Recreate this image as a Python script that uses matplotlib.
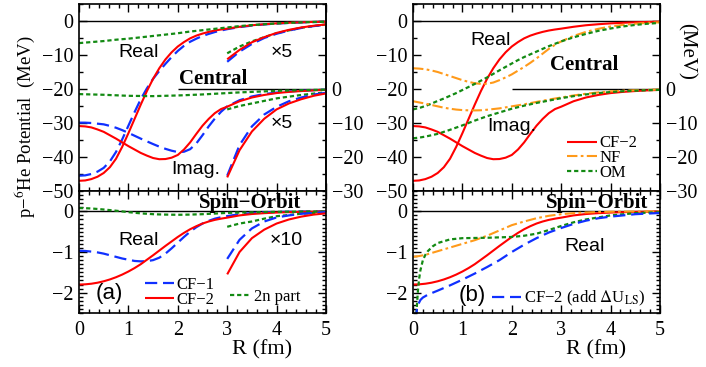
import numpy as np
import matplotlib.pyplot as plt
from matplotlib.ticker import MultipleLocator, FuncFormatter

plt.rcParams['font.family'] = ['Liberation Serif', 'DejaVu Serif']
plt.rcParams['mathtext.fontset'] = 'stix'
plt.rcParams['axes.unicode_minus'] = True

# ---------------- data ----------------
R = [0, 0.125, 0.25, 0.375, 0.5, 0.625, 0.75, 0.875, 1.0, 1.125, 1.25, 1.375, 1.5,
     1.625, 1.75, 1.875, 2.0, 2.125, 2.25, 2.375, 2.5, 2.625, 2.75, 2.875, 3.0,
     3.25, 3.5, 3.75, 4.0, 4.25, 4.5, 4.75, 5.0]

# central, real part (MeV)
cf1_real = [-45.5, -45.4, -45.0, -44.3, -43.2, -41.3, -38.5, -34.8, -30.8, -26.8, -23.0,
            -19.8, -17.0, -14.7, -12.6, -10.6, -8.8, -7.3, -6.1, -5.2, -4.4, -3.8, -3.25,
            -2.8, -2.4, -1.8, -1.35, -1.0, -0.75, -0.56, -0.41, -0.3, -0.22]
cf2_real = [-47.0, -46.9, -46.5, -45.8, -44.7, -43.0, -40.5, -37.0, -33.0, -28.8, -24.6,
            -20.6, -17.0, -13.9, -11.3, -9.2, -7.5, -6.2, -5.1, -4.3, -3.7, -3.2, -2.8,
            -2.5, -2.25, -1.7, -1.25, -0.95, -0.7, -0.52, -0.38, -0.28, -0.2]
twon_real = [-6.5, -6.35, -6.2, -6.05, -5.9, -5.7, -5.5, -5.35, -5.2, -5.0, -4.8, -4.6,
             -4.4, -4.2, -4.0, -3.8, -3.6, -3.35, -3.1, -2.9, -2.7, -2.5, -2.3, -2.1,
             -1.9, -1.5, -1.2, -0.95, -0.72, -0.55, -0.4, -0.3, -0.2]
nf_real = [-13.9, -14.0, -14.2, -14.55, -15.0, -15.6, -16.2, -16.8, -17.4, -17.9, -18.3,
           -18.5, -18.45, -18.1, -17.4, -16.6, -15.7, -14.6, -13.5, -12.3, -11.0, -9.6,
           -8.2, -7.0, -6.0, -4.4, -3.2, -2.3, -1.6, -1.15, -0.8, -0.55, -0.38]
om_real = [-26.0, -25.6, -25.0, -24.3, -23.5, -22.8, -22.0, -21.2, -20.3, -19.4, -18.5,
           -17.55, -16.6, -15.55, -14.5, -13.5, -12.5, -11.5, -10.6, -9.8, -9.0, -8.2,
           -7.4, -6.7, -6.0, -4.8, -3.8, -2.9, -2.2, -1.6, -1.15, -0.8, -0.55]

# central, imaginary part (MeV, right-hand scale)
cf1_imag = [-9.9, -9.9, -10.0, -10.2, -10.4, -10.85, -11.4, -12.1, -12.9, -13.75, -14.6,
            -15.4, -16.2, -16.95, -17.6, -18.15, -18.55, -18.45, -17.7, -16.0, -13.6,
            -11.0, -8.7, -6.7, -5.1, -3.3, -2.2, -1.5, -1.05, -0.72, -0.5, -0.33, -0.22]
cf2_imag = [-10.9, -11.0, -11.3, -11.9, -12.6, -13.6, -14.6, -15.7, -16.8, -17.8, -18.8,
            -19.6, -20.3, -20.65, -20.6, -20.2, -19.4, -17.8, -15.7, -13.2, -10.8, -8.8,
            -7.1, -5.9, -5.2, -3.6, -2.5, -1.75, -1.2, -0.85, -0.6, -0.4, -0.26]
twon_imag = [-1.5, -1.55, -1.6, -1.65, -1.7, -1.78, -1.85, -1.93, -2.0, -2.03, -2.05,
             -2.08, -2.1, -2.05, -2.0, -1.95, -1.9, -1.83, -1.75, -1.68, -1.6, -1.5,
             -1.4, -1.3, -1.2, -1.0, -0.85, -0.7, -0.55, -0.45, -0.35, -0.27, -0.2]
nf_imag = [-3.6, -3.95, -4.3, -4.7, -5.1, -5.5, -5.8, -6.05, -6.2, -6.28, -6.3, -6.25,
           -6.1, -5.9, -5.7, -5.4, -5.1, -4.8, -4.5, -4.15, -3.8, -3.45, -3.1, -2.8,
           -2.5, -1.9, -1.4, -1.0, -0.7, -0.5, -0.35, -0.25, -0.15]
om_imag = [-14.5, -14.3, -14.0, -13.6, -13.2, -12.6, -12.0, -11.35, -10.7, -10.0, -9.3,
           -8.65, -8.0, -7.45, -6.9, -6.35, -5.8, -5.35, -4.9, -4.5, -4.1, -3.75, -3.4,
           -3.05, -2.7, -2.1, -1.6, -1.2, -0.9, -0.65, -0.5, -0.35, -0.25]

# spin-orbit, real part (MeV)
cf1_so = [-0.97, -0.975, -0.99, -1.01, -1.04, -1.08, -1.12, -1.16, -1.19, -1.22, -1.23,
          -1.225, -1.20, -1.14, -1.04, -0.91, -0.77, -0.63, -0.50, -0.39, -0.30, -0.235,
          -0.18, -0.145, -0.117, -0.07, -0.042, -0.025, -0.015, -0.01, -0.006, -0.004,
          -0.002]
cf2_so = [-1.80, -1.795, -1.78, -1.755, -1.72, -1.675, -1.62, -1.555, -1.48, -1.395,
          -1.30, -1.19, -1.08, -0.965, -0.85, -0.74, -0.63, -0.53, -0.44, -0.365, -0.30,
          -0.25, -0.21, -0.18, -0.155, -0.10, -0.066, -0.045, -0.03, -0.02, -0.013,
          -0.008, -0.005]
twon_so = [0.08, 0.077, 0.07, 0.058, 0.045, 0.03, 0.015, -0.002, -0.02, -0.035, -0.05,
           -0.06, -0.07, -0.076, -0.08, -0.083, -0.085, -0.083, -0.08, -0.075, -0.07,
           -0.062, -0.055, -0.046, -0.038, -0.03, -0.025, -0.018, -0.012, -0.009,
           -0.006, -0.004, -0.003]
nf_so = [-1.12, -1.10, -1.07, -1.025, -0.98, -0.935, -0.89, -0.845, -0.80, -0.755,
         -0.71, -0.655, -0.60, -0.535, -0.47, -0.405, -0.34, -0.295, -0.25, -0.21,
         -0.17, -0.14, -0.11, -0.09, -0.07, -0.045, -0.028, -0.018, -0.01, -0.006,
         -0.004, -0.002, -0.001]
R_om_so = [0.06, 0.08, 0.1, 0.125, 0.15, 0.2, 0.25, 0.3, 0.4, 0.5, 0.75, 1.0, 1.5,
           2.0, 2.25, 2.5, 2.75, 3.0, 3.25, 3.5, 4.0, 4.5, 5.0]
om_so = [-2.7, -2.3, -1.95, -1.65, -1.45, -1.2, -1.07, -0.98, -0.86, -0.78, -0.69, -0.66,
         -0.65, -0.63, -0.6, -0.55, -0.46, -0.36, -0.27, -0.2, -0.1, -0.045, -0.02]
R_dls = [0.05, 0.08, 0.1, 0.15, 0.2, 0.3, 0.5, 0.75, 1.0, 1.25, 1.5, 1.75, 2.0, 2.25,
         2.5, 2.75, 3.0, 3.25, 3.5, 3.75, 4.0, 4.25, 4.5, 4.75, 5.0]
cf2_dls = [-2.7, -2.4, -2.3, -2.18, -2.12, -2.05, -1.95, -1.82, -1.68, -1.53, -1.37,
           -1.2, -1.0, -0.82, -0.66, -0.52, -0.41, -0.31, -0.23, -0.17, -0.13, -0.1,
           -0.07, -0.055, -0.04]

IMAG_SHIFT = -20.0   # imaginary part drawn with its zero at -20 on the left scale
SCALE_C = 5.0        # "x5" magnification for R >= 3
SCALE_SO = 10.0      # "x10" magnification for R >= 3

# ---------------- styles ----------------
RED = '#ff0000'
BLUE = '#1030ff'
GREEN = '#138a13'
ORANGE = '#ff9a1a'
st_red = dict(color=RED, lw=1.5, solid_capstyle='butt')
st_blue = dict(color=BLUE, lw=1.6, dashes=(5.5, 2.6))
st_green = dict(color=GREEN, lw=1.6, dashes=(1.9, 1.3))
st_orange = dict(color=ORANGE, lw=1.5, dashes=(5.0, 1.6, 1.3, 1.6))
SANS = ['Liberation Sans', 'DejaVu Sans']

fig = plt.figure(figsize=(7.06, 3.67), dpi=100)
W, H = 706.0, 367.0
def axpos(x0, x1, y0, y1):
    return [x0 / W, 1 - y1 / H, (x1 - x0) / W, (y1 - y0) / H]

axA = fig.add_axes(axpos(79, 326, 4, 191))
axB = fig.add_axes(axpos(413, 660, 4, 191))
axC = fig.add_axes(axpos(79, 326, 191, 313))
axD = fig.add_axes(axpos(413, 660, 191, 313))

Rn = np.array(R)
big = Rn >= 3

def arr(a):
    return np.array(a, dtype=float)

def style_axes(ax, top):
    ax.set_xlim(0, 5)
    ax.xaxis.set_major_locator(MultipleLocator(1))
    ax.xaxis.set_minor_locator(MultipleLocator(0.2))
    if top:
        ax.set_ylim(-50, 5)
        ax.yaxis.set_major_locator(MultipleLocator(10))
        ax.yaxis.set_minor_locator(MultipleLocator(5))
        ax.tick_params(labelbottom=False)
    else:
        ax.set_ylim(-2.5, 0.5)
        ax.yaxis.set_major_locator(MultipleLocator(1))
        ax.yaxis.set_minor_locator(MultipleLocator(0.1))
    ax.tick_params(which='both', direction='in', top=True, right=True,
                   labelsize=14.5, width=1.0)
    ax.tick_params(which='major', length=6)
    ax.tick_params(which='minor', length=3)
    ax.tick_params(axis='x', pad=6)
    ax.tick_params(axis='y', pad=4)
    for s in ax.spines.values():
        s.set_linewidth(1.2)
    ax.axhline(0, color='black', lw=1.0, zorder=1)

def right_imag_axis(ax):
    ax.tick_params(which='both', right=False)
    sec = ax.secondary_yaxis('right', functions=(lambda y: y - IMAG_SHIFT,
                                                  lambda y: y + IMAG_SHIFT))
    sec.yaxis.set_major_locator(MultipleLocator(10))
    sec.yaxis.set_minor_locator(MultipleLocator(5))
    sec.yaxis.set_major_formatter(FuncFormatter(
        lambda v, p: ('%d' % round(v)).replace('-', '\u2212') if v <= 0.5 else ''))
    sec.tick_params(which='both', direction='in', labelsize=14.5, width=1.0, pad=4)
    sec.tick_params(which='major', length=6)
    sec.tick_params(which='minor', length=3)
    sec.spines['right'].set_linewidth(1.2)
    return sec

for ax in (axA, axB):
    style_axes(ax, True)
    right_imag_axis(ax)
    ax.hlines(IMAG_SHIFT, 2, 5, color='black', lw=1.0, zorder=1)
for ax in (axC, axD):
    style_axes(ax, False)

# ---- panel (a) central ----
axA.plot(R, cf1_real, **st_blue)
axA.plot(R, cf2_real, **st_red)
axA.plot(R, twon_real, **st_green)
axA.plot(Rn, arr(cf1_imag) + IMAG_SHIFT, **st_blue)
axA.plot(Rn, arr(cf2_imag) + IMAG_SHIFT, **st_red)
axA.plot(Rn, arr(twon_imag) + IMAG_SHIFT, **st_green)
# magnified tails
axA.plot(Rn[big], SCALE_C * arr(twon_real)[big], **st_green)
axA.plot(Rn[big], SCALE_C * arr(cf1_real)[big], **st_blue)
axA.plot(Rn[big], SCALE_C * arr(cf2_real)[big], **st_red)
axA.plot(Rn[big], SCALE_C * arr(twon_imag)[big] + IMAG_SHIFT, **st_green)
axA.plot(Rn[big], SCALE_C * arr(cf1_imag)[big] + IMAG_SHIFT, **st_blue)
axA.plot(Rn[big], SCALE_C * arr(cf2_imag)[big] + IMAG_SHIFT, **st_red)

axA.text(1.2, -9.3, 'Real', family=SANS, fontsize=14, ha='center', va='center')
axA.text(2.37, -43.8, 'Imag.', family=SANS, fontsize=14, ha='center', va='center')
axA.text(4.1, -9.3, '\u00d75', family=SANS, fontsize=14, ha='center', va='center')
axA.text(4.1, -30.0, '\u00d75', family=SANS, fontsize=14, ha='center', va='center')
axA.text(2.72, -17.0, 'Central', fontsize=15, fontweight='bold', ha='center', va='center')

# ---- panel (b) central ----
lb_red, = axB.plot(R, cf2_real, **st_red, label='CF\u22122')
lb_nf, = axB.plot(R, nf_real, **st_orange, label='NF')
lb_om, = axB.plot(R, om_real, **st_green, label='OM')
axB.plot(Rn, arr(cf2_imag) + IMAG_SHIFT, **st_red)
axB.plot(Rn, arr(nf_imag) + IMAG_SHIFT, **st_orange)
axB.plot(Rn, arr(om_imag) + IMAG_SHIFT, **st_green)
axB.text(1.56, -5.8, 'Real', family=SANS, fontsize=14, ha='center', va='center')
axB.text(2.0, -31.0, 'Imag.', family=SANS, fontsize=14, ha='center', va='center')
axB.text(3.47, -13.0, 'Central', fontsize=15, fontweight='bold', ha='center', va='center')
axB.legend(handles=[lb_red, lb_nf, lb_om], loc='center left',
           bbox_to_anchor=(0.625, 0.176), frameon=False, fontsize=12,
           handlelength=1.75, handletextpad=0.15, labelspacing=-0.08,
           borderpad=0, borderaxespad=0)
axB.text(1.105, 0.745, '(MeV)', transform=axB.transAxes, rotation=270,
         fontsize=15, ha='center', va='center')

# ---- panel (a) spin-orbit ----
lc_blue, = axC.plot(R, cf1_so, **st_blue, label='CF\u22121')
lc_red, = axC.plot(R, cf2_so, **st_red, label='CF\u22122')
lc_green, = axC.plot(R, twon_so, **st_green, label='2n part')
axC.plot(Rn[big], SCALE_SO * arr(twon_so)[big], **st_green)
axC.plot(Rn[big], SCALE_SO * arr(cf1_so)[big], **st_blue)
axC.plot(Rn[big], SCALE_SO * arr(cf2_so)[big], **st_red)
axC.text(1.2, -0.72, 'Real', family=SANS, fontsize=14, ha='center', va='center')
axC.text(4.2, -0.72, '\u00d710', family=SANS, fontsize=14, ha='center', va='center')
axC.text(3.46, 0.2, 'Spin\u2212Orbit', fontsize=15, fontweight='bold', ha='center', va='center')
axC.text(0.62, -2.02, '(a)', family=SANS, fontsize=16, ha='center', va='center')
leg1 = axC.legend(handles=[lc_blue, lc_red], loc='center left',
                  bbox_to_anchor=(0.268, 0.17), frameon=False, fontsize=12,
                  handlelength=1.75, handletextpad=0.15, labelspacing=-0.05,
                  borderpad=0, borderaxespad=0)
axC.add_artist(leg1)
axC.legend(handles=[lc_green], loc='center left', bbox_to_anchor=(0.61, 0.13),
           frameon=False, fontsize=12, handlelength=1.3, handletextpad=0.15,
           borderpad=0, borderaxespad=0)
axC.text(0.74, -0.30, 'R (fm)', transform=axC.transAxes, fontsize=16,
         ha='center', va='center')

# ---- panel (b) spin-orbit ----
axD.plot(R, cf2_so, **st_red)
axD.plot(R, nf_so, **st_orange)
axD.plot(R_om_so, om_so, **st_green)
ld_blue, = axD.plot(R_dls, cf2_dls, **st_blue, label='CF\u22122 (add $\\Delta$U$_{\\rm LS}$)')
axD.text(3.47, -0.87, 'Real', family=SANS, fontsize=14, ha='center', va='center')
axD.text(3.72, 0.2, 'Spin\u2212Orbit', fontsize=15, fontweight='bold', ha='center', va='center')
axD.text(1.2, -2.06, '(b)', family=SANS, fontsize=16, ha='center', va='center')
axD.legend(handles=[ld_blue], loc='center left', bbox_to_anchor=(0.32, 0.12),
           frameon=False, fontsize=12, handlelength=1.75, handletextpad=0.15,
           borderpad=0, borderaxespad=0)
axD.text(0.74, -0.30, 'R (fm)', transform=axD.transAxes, fontsize=16,
         ha='center', va='center')

fig.text(0.035, 0.654, 'p\u2212$^{6}$He Potential  (MeV)', rotation=90,
         fontsize=13.5, ha='center', va='center')

fig.savefig('out.png', dpi=100)
